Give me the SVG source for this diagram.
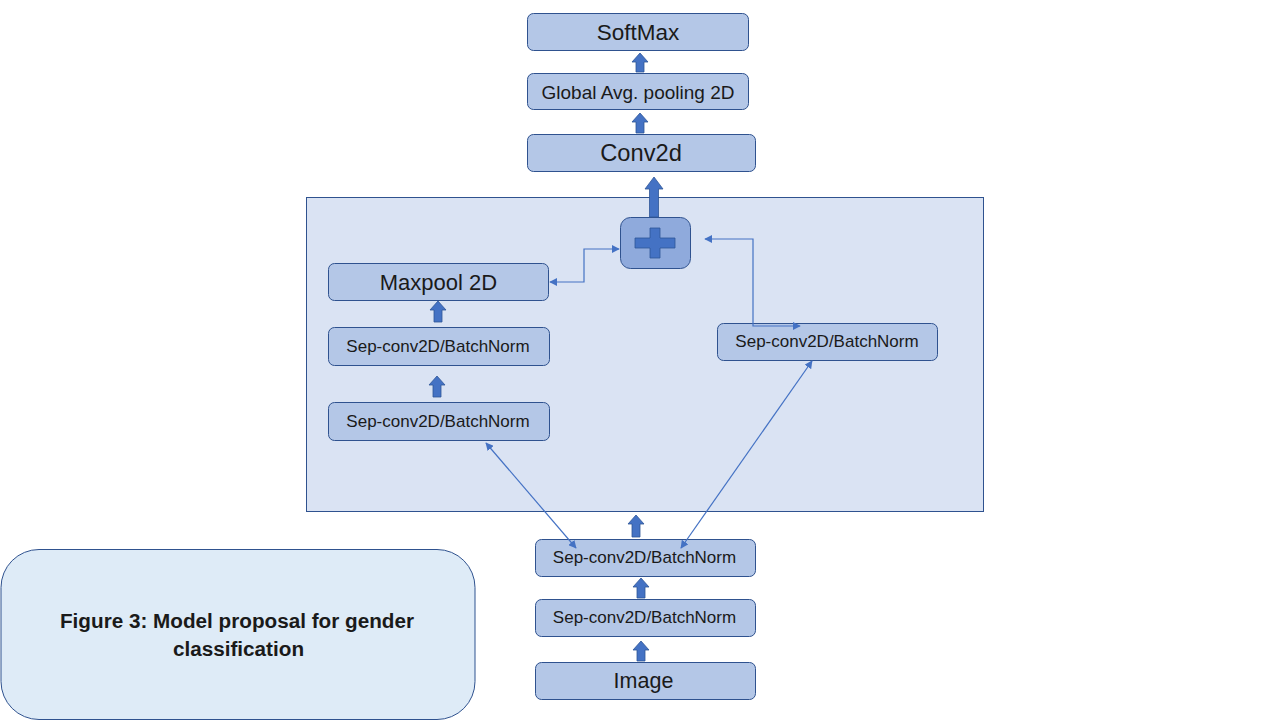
<svg xmlns="http://www.w3.org/2000/svg" width="1280" height="720" viewBox="0 0 1280 720">
<defs>
<style>
.box{fill:#b4c7e7;stroke:#2f528f;stroke-width:1}
.t{font-family:"Liberation Sans",Arial,sans-serif;fill:#1a1a1a;text-anchor:middle;dominant-baseline:central}
.sep{font-size:17px}
.fat{fill:#4472c4;stroke:#2f5597;stroke-width:0.8}
.thin{fill:none;stroke:#4472c4;stroke-width:1.2}
</style>
<marker id="ah" viewBox="0 0 10 10" refX="9" refY="5" markerWidth="8" markerHeight="8" markerUnits="userSpaceOnUse" orient="auto-start-reverse">
<path d="M0,0 L10,5 L0,10 z" fill="#4472c4"/>
</marker>
</defs>
<rect width="1280" height="720" fill="#ffffff"/>

<g id="container">
<rect x="306.5" y="197.5" width="677" height="314" fill="#dae3f3" stroke="#2f528f" stroke-width="1"/>
</g>

<g id="caption">
<rect x="1" y="549.5" width="474" height="170" rx="38" fill="#deebf7" stroke="#2f528f" stroke-width="1"/>
<text class="t" x="237" y="620" font-size="20.7" font-weight="bold">Figure 3: Model proposal for gender</text>
<text class="t" x="238.5" y="648" font-size="20.7" font-weight="bold">classification</text>
</g>

<g id="softmax"><rect class="box" x="527.5" y="13.5" width="221" height="37" rx="6"/><text class="t" x="638" y="32" font-size="22.5">SoftMax</text></g>
<g id="gap"><rect class="box" x="527.5" y="73.5" width="221" height="36" rx="6"/><text class="t" x="638" y="92" font-size="19">Global Avg. pooling 2D</text></g>
<g id="conv2d"><rect class="box" x="527.5" y="134.5" width="228" height="37" rx="6"/><text class="t" x="641" y="153" font-size="23.7">Conv2d</text></g>
<g id="add"><rect x="620.5" y="217.5" width="70" height="51" rx="10" fill="#8faadc" stroke="#2f528f" stroke-width="1"/>
<path d="M650,228 H660 V238 H675 V248 H660 V258 H650 V248 H635 V238 H650 Z" fill="#4472c4" stroke="#2f5597" stroke-width="0.8"/></g>
<g id="maxpool"><rect class="box" x="328.5" y="263.5" width="220" height="37" rx="6"/><text class="t" x="438.5" y="282" font-size="22">Maxpool 2D</text></g>
<g id="sepL1"><rect class="box" x="328.5" y="327.5" width="221" height="38" rx="6"/><text class="t sep" x="438" y="346">Sep-conv2D/BatchNorm</text></g>
<g id="sepL2"><rect class="box" x="328.5" y="402.5" width="221" height="38" rx="6"/><text class="t sep" x="438" y="421">Sep-conv2D/BatchNorm</text></g>
<g id="sepR"><rect class="box" x="717.5" y="323.5" width="220" height="37" rx="6"/><text class="t sep" x="827" y="341">Sep-conv2D/BatchNorm</text></g>
<g id="sepB1"><rect class="box" x="535.5" y="539.5" width="220" height="37" rx="6"/><text class="t sep" x="644.5" y="557">Sep-conv2D/BatchNorm</text></g>
<g id="sepB2"><rect class="box" x="535.5" y="599.5" width="220" height="37" rx="6"/><text class="t sep" x="644.5" y="617">Sep-conv2D/BatchNorm</text></g>
<g id="image"><rect class="box" x="535.5" y="662.5" width="220" height="37" rx="6"/><text class="t" x="643.5" y="681" font-size="21.5">Image</text></g>

<g id="connectors">
<polygon class="fat" points="636,72 636,62 632,62 640,53 648,62 644,62 644,72"/>
<polygon class="fat" points="636,133 636,122 632,122 640,113 648,122 644,122 644,133"/>
<polygon class="fat" points="649.5,217 649.5,189 645,189 654,177 663,189 658.5,189 658.5,217"/>
<polygon class="fat" points="434,322 434,310 430,310 438,301 446,310 442,310 442,322"/>
<polygon class="fat" points="433,397 433,385 429,385 437,376 445,385 441,385 441,397"/>
<polygon class="fat" points="632,537 632,524 628,524 636,515 644,524 640,524 640,537"/>
<polygon class="fat" points="637,598 637,587 633,587 641,578 649,587 645,587 645,598"/>
<polygon class="fat" points="637,661 637,650 633,650 641,641 649,650 645,650 645,661"/>
<path class="thin" d="M550,282 H584 V249 H619" marker-start="url(#ah)" marker-end="url(#ah)"/>
<path class="thin" d="M705,239 H753 V326 H800" marker-start="url(#ah)" marker-end="url(#ah)"/>
<path class="thin" d="M486,443 L576,548" marker-start="url(#ah)" marker-end="url(#ah)"/>
<path class="thin" d="M812,361 L681,548" marker-start="url(#ah)" marker-end="url(#ah)"/>
</g>
</svg>
